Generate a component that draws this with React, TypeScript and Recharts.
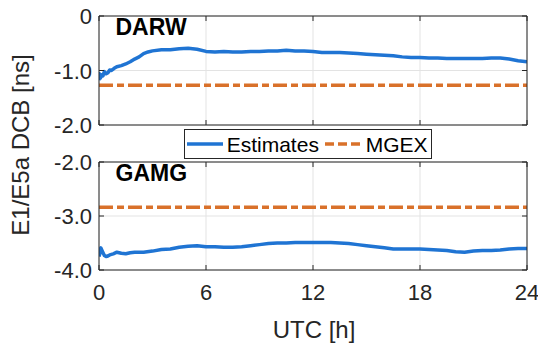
import React from 'react';
import { LineChart, Line, XAxis, YAxis, CartesianGrid, Legend } from 'recharts';

const FONT = '"Liberation Sans", Arial, Helvetica, sans-serif';
const AXIS = '#262626';
const GRID = '#e3e3e3';
const BLUE = '#1f74d3';
const ORANGE = '#d9712a';

const xTicks = [0, 6, 12, 18, 24];
const xTickLabels = ['0', '6', '12', '18', '24'];
const darwYTicks = [-2, -1, 0];
const darwYTickLabels = ['-2.0', '-1.0', '0'];
const gamgYTicks = [-4, -3, -2];
const gamgYTickLabels = ['-4.0', '-3.0', '-2.0'];

const seriesNames = ['Estimates', 'MGEX'];
const stationNames = ['DARW', 'GAMG'];

const darwHours = [0, 0.03, 0.08, 0.15, 0.22, 0.3, 0.4, 0.5, 0.6, 0.7, 0.85, 1.0, 1.25, 1.5, 1.75, 2.0, 2.25, 2.5, 2.75, 3.0, 3.5, 4.0, 4.5, 5.0, 5.5, 6.0, 6.5, 7.0, 7.5, 8.0, 8.5, 9.0, 9.5, 10.0, 10.5, 11.0, 11.5, 12.0, 12.5, 13.0, 13.5, 14.0, 14.5, 15.0, 15.5, 16.0, 16.5, 17.0, 17.5, 18.0, 18.5, 19.0, 19.5, 20.0, 20.5, 21.0, 21.5, 22.0, 22.5, 23.0, 23.5, 24.0];
const darwEstimates = [-1.18, -1.06, -1.14, -1.08, -1.1, -1.02, -1.06, -1.04, -0.99, -1.0, -0.96, -0.93, -0.91, -0.88, -0.84, -0.79, -0.75, -0.69, -0.66, -0.64, -0.62, -0.62, -0.6, -0.59, -0.61, -0.65, -0.66, -0.65, -0.66, -0.66, -0.65, -0.65, -0.64, -0.64, -0.63, -0.64, -0.64, -0.65, -0.67, -0.67, -0.67, -0.68, -0.69, -0.7, -0.71, -0.72, -0.73, -0.75, -0.76, -0.76, -0.77, -0.77, -0.78, -0.78, -0.78, -0.78, -0.78, -0.77, -0.77, -0.79, -0.82, -0.84];
const darwMgexHours = [0, 24];
const darwMgex = [-1.27, -1.27];

const gamgHours = [0, 0.05, 0.1, 0.2, 0.3, 0.4, 0.5, 0.6, 0.8, 1.0, 1.25, 1.5, 1.75, 2.0, 2.5, 3.0, 3.5, 4.0, 4.5, 5.0, 5.5, 6.0, 6.5, 7.0, 7.5, 8.0, 8.5, 9.0, 9.5, 10.0, 10.5, 11.0, 11.5, 12.0, 12.5, 13.0, 13.5, 14.0, 14.5, 15.0, 15.5, 16.0, 16.5, 17.0, 17.5, 18.0, 18.5, 19.0, 19.5, 20.0, 20.5, 21.0, 21.5, 22.0, 22.5, 23.0, 23.5, 24.0];
const gamgEstimates = [-3.75, -3.7, -3.59, -3.66, -3.73, -3.75, -3.74, -3.72, -3.7, -3.67, -3.69, -3.7, -3.68, -3.67, -3.67, -3.65, -3.62, -3.61, -3.58, -3.56, -3.55, -3.57, -3.57, -3.58, -3.58, -3.57, -3.55, -3.53, -3.51, -3.5, -3.5, -3.49, -3.49, -3.49, -3.49, -3.49, -3.5, -3.51, -3.53, -3.55, -3.57, -3.59, -3.61, -3.61, -3.61, -3.61, -3.62, -3.63, -3.64, -3.66, -3.67, -3.65, -3.64, -3.64, -3.63, -3.61, -3.6, -3.6];
const gamgMgexHours = [0, 24];
const gamgMgex = [-2.84, -2.84];

const toData = (hours: number[], vals: number[], key: string) =>
  hours.map((h, i) => ({ h, [key]: vals[i] }));

const darwEstData = toData(darwHours, darwEstimates, 'est');
const darwMgexData = toData(darwMgexHours, darwMgex, 'mgex');
const gamgEstData = toData(gamgHours, gamgEstimates, 'est');
const gamgMgexData = toData(gamgMgexHours, gamgMgex, 'mgex');

const TICK_LEN = 5;
const MGEX_DASH = '14 4 7 4';

const makeLeftTick = (ticks: number[], labels: string[]) => (props: any) => {
  const { x, y, payload } = props;
  const idx = ticks.indexOf(payload.value);
  return (
    <g>
      <line x1={x} x2={x + TICK_LEN} y1={y} y2={y} stroke={AXIS} strokeWidth={1} />
      <text x={x - 7} y={y} dy={8} textAnchor="end" fill={AXIS} fontSize={22} fontFamily={FONT}>
        {idx >= 0 ? labels[idx] : ''}
      </text>
    </g>
  );
};

const RightTick = (props: any) => {
  const { x, y } = props;
  return <line x1={x} x2={x - TICK_LEN} y1={y} y2={y} stroke={AXIS} strokeWidth={1} />;
};

const TopTick = (props: any) => {
  const { x, y } = props;
  return <line x1={x} x2={x} y1={y} y2={y + TICK_LEN} stroke={AXIS} strokeWidth={1} />;
};

const makeBottomTick = (showLabel: boolean) => (props: any) => {
  const { x, y, payload } = props;
  const idx = xTicks.indexOf(payload.value);
  return (
    <g>
      <line x1={x} x2={x} y1={y} y2={y - TICK_LEN} stroke={AXIS} strokeWidth={1} />
      {showLabel && (
        <text x={x} y={y + 30} textAnchor="middle" fill={AXIS} fontSize={22} fontFamily={FONT}>
          {idx >= 0 ? xTickLabels[idx] : ''}
        </text>
      )}
    </g>
  );
};

const LegendBox = (props: any) => {
  const payload = props.payload || [];
  const slots = [
    { line: [3, 39], text: 42.7 },
    { line: [141, 178], text: 181.7 },
  ];
  return (
    <div style={{ boxSizing: 'border-box', width: 248, height: 30, border: `1px solid ${AXIS}`, background: '#fff' }}>
      <svg width={246} height={28} style={{ display: 'block' }}>
        {payload.slice(0, 2).map((entry: any, i: number) => {
          const s = slots[i];
          const dashed = entry.value === seriesNames[1];
          return (
            <g key={i}>
              <line
                x1={s.line[0] - 1}
                x2={s.line[1] - 1}
                y1={14}
                y2={14}
                stroke={entry.color}
                strokeWidth={dashed ? 3.5 : 3.5}
                strokeDasharray={dashed ? '9 4' : undefined}
              />
              <text x={s.text - 1} y={21.7} fill="#000" fontSize={21} fontFamily={FONT}>
                {entry.value}
              </text>
            </g>
          );
        })}
      </svg>
    </div>
  );
};

const Panel = (p: {
  marginTop: number;
  marginBottom: number;
  yTicks: number[];
  yLabels: string[];
  estData: any[];
  mgexData: any[];
  showXLabels: boolean;
  withLegend: boolean;
}) => (
  <div style={{ position: 'absolute', left: 0, top: 0 }}>
    <LineChart
      width={538}
      height={344}
      margin={{ top: p.marginTop, right: 10, bottom: p.marginBottom, left: 0 }}
    >
      <CartesianGrid stroke={GRID} strokeWidth={1} />
      <XAxis
        dataKey="h"
        type="number"
        domain={[0, 24]}
        ticks={xTicks}
        interval={0}
        height={1}
        tickSize={0}
        tickMargin={0}
        axisLine={{ stroke: AXIS, strokeWidth: 1 }}
        tickLine={false}
        tick={makeBottomTick(p.showXLabels)}
        allowDataOverflow
      />
      <XAxis
        xAxisId="top"
        orientation="top"
        dataKey="h"
        type="number"
        domain={[0, 24]}
        ticks={xTicks}
        interval={0}
        height={1}
        tickSize={0}
        tickMargin={0}
        axisLine={{ stroke: AXIS, strokeWidth: 1 }}
        tickLine={false}
        tick={TopTick}
        allowDataOverflow
      />
      <YAxis
        type="number"
        domain={[p.yTicks[0], p.yTicks[p.yTicks.length - 1]]}
        ticks={p.yTicks}
        interval={0}
        width={99}
        tickSize={0}
        tickMargin={0}
        axisLine={{ stroke: AXIS, strokeWidth: 1 }}
        tickLine={false}
        tick={makeLeftTick(p.yTicks, p.yLabels)}
        allowDataOverflow
      />
      <YAxis
        yAxisId="right"
        orientation="right"
        type="number"
        domain={[p.yTicks[0], p.yTicks[p.yTicks.length - 1]]}
        ticks={p.yTicks}
        interval={0}
        width={1}
        tickSize={0}
        tickMargin={0}
        axisLine={{ stroke: AXIS, strokeWidth: 1 }}
        tickLine={false}
        tick={RightTick}
        allowDataOverflow
      />
      <Line
        data={p.mgexData}
        dataKey="mgex"
        name={seriesNames[1]}
        stroke={ORANGE}
        strokeWidth={3.5}
        strokeDasharray={MGEX_DASH}
        dot={false}
        activeDot={false}
        isAnimationActive={false}
      />
      <Line
        data={p.estData}
        dataKey="est"
        name={seriesNames[0]}
        stroke={BLUE}
        strokeWidth={3.5}
        strokeLinejoin="round"
        dot={false}
        activeDot={false}
        isAnimationActive={false}
      />
      {p.withLegend && (
        <Legend
          layout="horizontal"
          verticalAlign="middle"
          align="center"
          wrapperStyle={{ left: 184, top: 129, width: 248, height: 30, bottom: 'auto', right: 'auto' }}
          content={(lp: any) => {
            const pl = [...(lp.payload || [])].sort((a: any, b: any) =>
              seriesNames.indexOf(a.value) - seriesNames.indexOf(b.value)
            );
            return <LegendBox payload={pl} />;
          }}
        />
      )}
    </LineChart>
  </div>
);

export default function App() {
  return (
    <div
      style={{
        position: 'absolute',
        left: 0,
        top: 0,
        width: 538,
        height: 344,
        background: '#fff',
        fontFamily: FONT,
        overflow: 'hidden',
      }}
    >
      <Panel
        marginTop={15}
        marginBottom={218}
        yTicks={darwYTicks}
        yLabels={darwYTickLabels}
        estData={darwEstData}
        mgexData={darwMgexData}
        showXLabels={false}
        withLegend={false}
      />
      <Panel
        marginTop={161}
        marginBottom={73}
        yTicks={gamgYTicks}
        yLabels={gamgYTickLabels}
        estData={gamgEstData}
        mgexData={gamgMgexData}
        showXLabels={true}
        withLegend={true}
      />
      <svg
        width={538}
        height={344}
        style={{ position: 'absolute', left: 0, top: 0, pointerEvents: 'none' }}
      >
        <text x={115.5} y={35} fontSize={23} fontWeight="bold" fill="#000" fontFamily={FONT}>
          {stationNames[0]}
        </text>
        <text x={115.5} y={181} fontSize={23} fontWeight="bold" fill="#000" fontFamily={FONT}>
          {stationNames[1]}
        </text>
        <text
          x={29}
          y={145}
          transform="rotate(-90, 29, 145)"
          textAnchor="middle"
          fontSize={24}
          fill={AXIS}
          fontFamily={FONT}
        >
          E1/E5a DCB [ns]
        </text>
        <text x={314} y={338} textAnchor="middle" fontSize={24} fill={AXIS} fontFamily={FONT}>
          UTC [h]
        </text>
      </svg>
    </div>
  );
}
